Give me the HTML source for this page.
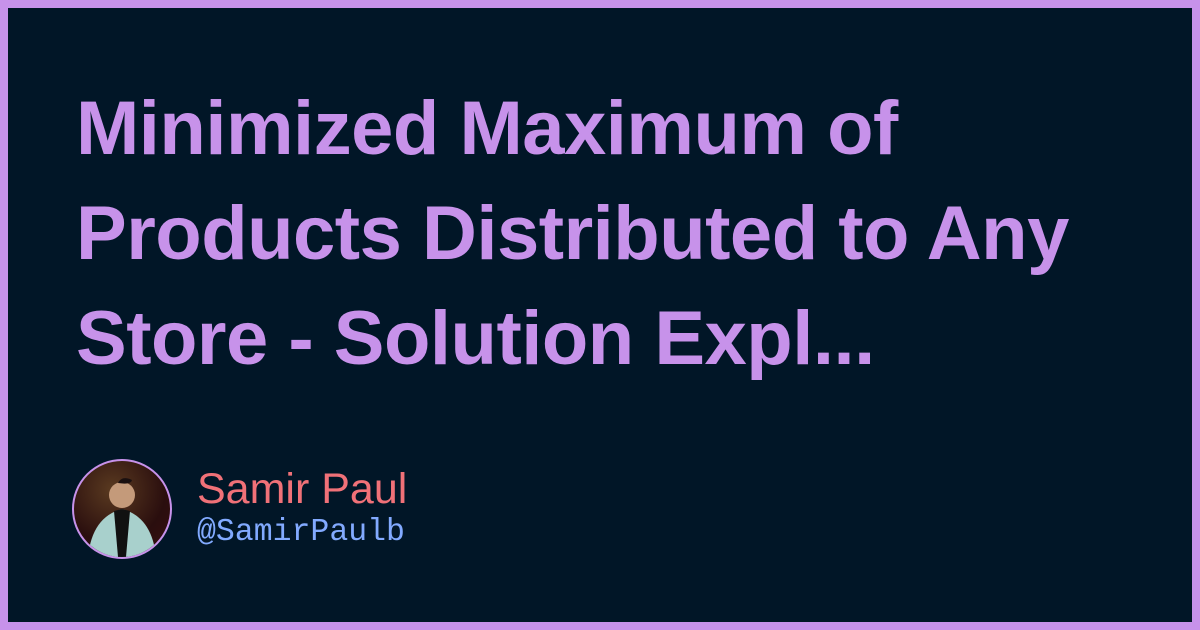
<!DOCTYPE html>
<html><head><meta charset="utf-8"><style>
html,body{margin:0;padding:0}
body{width:1200px;height:630px;background:#c792ea;position:relative;overflow:hidden}
.in{position:absolute;left:8px;top:8px;width:1184px;height:614px;background:#011627}
.t{position:absolute;left:76px;top:76px;font-family:"Liberation Sans",sans-serif;font-weight:bold;font-size:76px;line-height:105px;color:#c792ea;white-space:nowrap;letter-spacing:-0.5px}
.av{position:absolute;left:72px;top:459px;width:96px;height:96px;border-radius:50%;border:2px solid #c792ea;overflow:hidden;background:radial-gradient(circle at 40% 30%,#5a3a20,#2a0e0e 60%,#3a1010)}
.n{position:absolute;left:197px;top:465px;font-family:"Liberation Sans",sans-serif;font-size:43px;color:#f07178;line-height:48px}
.h{position:absolute;left:197px;top:514px;font-family:"Liberation Mono",monospace;font-size:31.5px;color:#82aaff;line-height:38px}
</style></head><body>
<div class="in"></div>
<div class="t">Minimized Maximum of<br>Products Distributed to Any<br>Store - Solution Expl...</div>
<div class="av"><svg width="96" height="96">
<circle cx="48" cy="34" r="13" fill="#c49a7a"/>
<path d="M44 22 q4 -8 14 -3 q-1 5 -14 3z" fill="#1a1010"/>
<path d="M14 96 q4 -40 34 -48 q30 8 34 48z" fill="#a8d0cc"/>
<path d="M40 50 l8 -2 l8 2 l-4 46 h-8z" fill="#111"/>
</svg></div>
<div class="n">Samir Paul</div>
<div class="h">@SamirPaulb</div>
</body></html>
